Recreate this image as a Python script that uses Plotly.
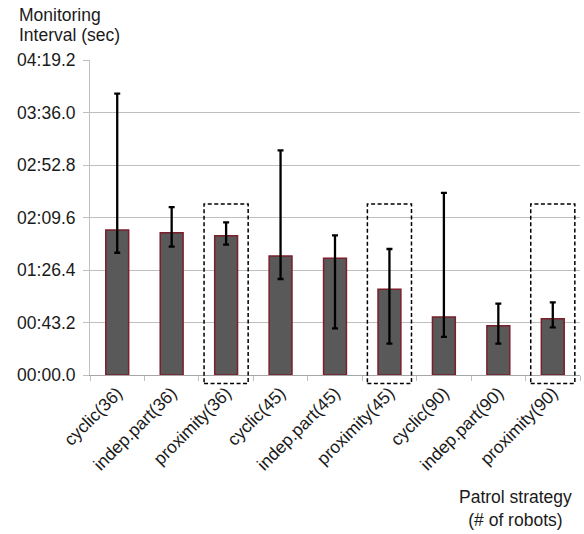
import plotly.graph_objects as go

categories = ["cyclic(36)", "indep.part(36)", "proximity(36)",
              "cyclic(45)", "indep.part(45)", "proximity(45)",
              "cyclic(90)", "indep.part(90)", "proximity(90)"]
# mean monitoring interval in seconds
means = [119.3, 117.1, 114.6, 97.9, 96.0, 70.5, 47.7, 40.6, 46.3]
err_high = [231.5, 138.2, 125.6, 184.9, 114.9, 103.7, 149.8, 58.7, 59.8]
err_low = [100.6, 105.6, 107.2, 79.0, 38.4, 25.8, 31.3, 25.8, 39.2]
tick_vals = [0, 43.2, 86.4, 129.6, 172.8, 216.0, 259.2]
tick_text = ["00:00.0", "00:43.2", "01:26.4", "02:09.6", "02:52.8", "03:36.0", "04:19.2"]
highlighted = ["proximity(36)", "proximity(45)", "proximity(90)"]

plus = [h - m for h, m in zip(err_high, means)]
minus = [m - l for m, l in zip(means, err_low)]

font = "Liberation Sans, Arial, sans-serif"
FS = 17.5
TXT = "#1a1a1a"

W, H = 584, 534
PL, PT, PR, PB = 90, 60, 580, 375  # plot area in page pixels
L, T, R, B = PL, PT, W - PR, H - PB

def py(px):
    return (PB - px) / (PB - PT)

def pxx(px):
    return (px - PL) / (PR - PL)

fig = go.Figure()
fig.add_trace(go.Bar(
    x=categories, y=means, width=0.42,
    marker=dict(color="#595959", line=dict(color="#7a1f2b", width=1.5)),
    error_y=dict(type="data", symmetric=False, array=plus, arrayminus=minus,
                 color="black", thickness=2.3, width=3),
))

for cat in highlighted:
    i = categories.index(cat)
    fig.add_shape(type="rect", xref="x", yref="paper",
                  x0=i - 0.405, x1=i + 0.405,
                  y0=py(383.5), y1=py(204),
                  line=dict(color="black", width=1.5, dash="4px,2.5px"),
                  fillcolor="rgba(0,0,0,0)")

for txt, ypx in [("Monitoring", 14.5), ("Interval (sec)", 35)]:
    fig.add_annotation(text=txt, xref="paper", yref="paper",
                       x=pxx(18), y=py(ypx), xanchor="left", yanchor="middle",
                       showarrow=False, align="left", borderpad=0,
                       font=dict(family=font, size=FS, color=TXT))
fig.add_annotation(text="Patrol strategy<br>(# of robots)", xref="paper", yref="paper",
                   x=pxx(515), y=py(508), xanchor="center", yanchor="middle",
                   showarrow=False, align="center",
                   font=dict(family=font, size=FS, color=TXT))

fig.update_layout(
    width=W, height=H,
    margin=dict(l=L, r=R, t=T, b=B, pad=0),
    paper_bgcolor="white", plot_bgcolor="white",
    showlegend=False,
    font=dict(family=font, size=FS, color=TXT),
)
fig.update_xaxes(
    type="category", tickangle=-45, tickson="boundaries",
    ticks="outside", ticklen=5, tickcolor="#bfbfbf",
    showline=True, linecolor="#a6a6a6", linewidth=1,
    showgrid=False, tickfont=dict(family=font, size=FS, color=TXT),
)
fig.update_yaxes(
    range=[0, 259.2], tickvals=tick_vals, ticktext=tick_text,
    ticks="outside", ticklen=6, tickcolor="#bfbfbf",
    showline=True, linecolor="#bfbfbf", linewidth=1,
    showgrid=True, gridcolor="#bfbfbf", gridwidth=1.2,
    zeroline=False, tickfont=dict(family=font, size=FS, color=TXT),
    ticklabelstandoff=4,
)

fig.write_html("out.html", config={"displayModeBar": False},
               post_script="document.body.style.margin='0';")
